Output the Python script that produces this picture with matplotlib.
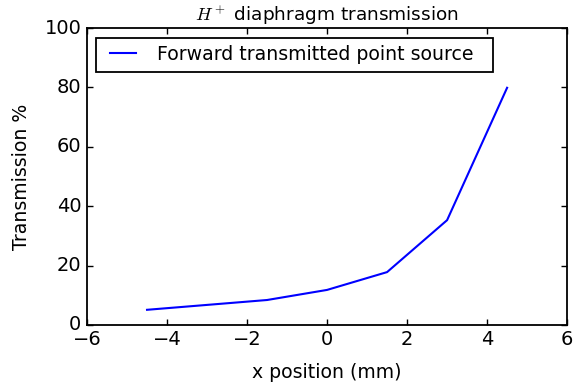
import matplotlib
matplotlib.use("Agg")
import matplotlib.pyplot as plt

plt.style.use("classic")

# transmission through the H+ diaphragm vs source x position
x_mm = [-4.5, -1.5, 0.0, 1.5, 3.0, 4.5]
transmission = [5.1, 8.4, 11.8, 17.8, 35.3, 79.9]

fig = plt.figure(figsize=(5.74, 3.85), dpi=100, facecolor="white")
ax = fig.add_axes([0.1516, 0.156, 0.8364, 0.771])

ax.plot(x_mm, transmission, "-", color="blue", lw=1.5,
        label="Forward transmitted point source  ")

ax.set_xlim(-6, 6)
ax.set_ylim(0, 100)
ax.tick_params(labelsize=14, width=1)
for sp in ax.spines.values():
    sp.set_linewidth(1.3)
ax.set_xlabel("x position (mm)", fontsize=13.6, labelpad=10)
ax.set_ylabel("Transmission %", fontsize=13.6, labelpad=10)
ax.set_title(r"$H^+$ diaphragm transmission", fontsize=13.3)
leg = ax.legend(loc="upper left", fontsize=13.6)
leg.get_frame().set_linewidth(1.3)

fig.savefig("out.png", dpi=100, facecolor="white")
